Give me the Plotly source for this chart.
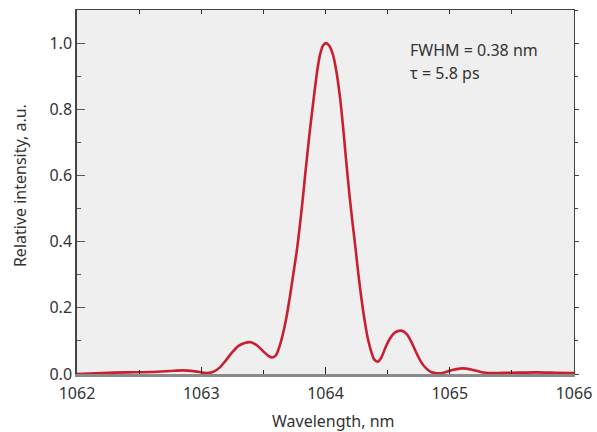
import plotly.graph_objects as go

wavelength_nm = [1062.00, 1062.20, 1062.40, 1062.60, 1062.75, 1062.85, 1062.95, 1063.05,
                 1063.10, 1063.15, 1063.20, 1063.25, 1063.30, 1063.35, 1063.40, 1063.45,
                 1063.50, 1063.54, 1063.57, 1063.60, 1063.625, 1063.65, 1063.68, 1063.714,
                 1063.74, 1063.77, 1063.813, 1063.84, 1063.87, 1063.902, 1063.934, 1063.956,
                 1063.98, 1064.004, 1064.03, 1064.06, 1064.085, 1064.117, 1064.143, 1064.165,
                 1064.19, 1064.215, 1064.24, 1064.265, 1064.29, 1064.32, 1064.345, 1064.37,
                 1064.39, 1064.42, 1064.45, 1064.48, 1064.52, 1064.56, 1064.61, 1064.65,
                 1064.69, 1064.73, 1064.77, 1064.81, 1064.85, 1064.90, 1064.95, 1065.02,
                 1065.10, 1065.18, 1065.25, 1065.32, 1065.50, 1065.70, 1065.85, 1066.00]
intensity = [0.000, 0.003, 0.005, 0.006, 0.009, 0.011, 0.008, 0.003,
             0.007, 0.020, 0.042, 0.066, 0.085, 0.094, 0.096, 0.086,
             0.068, 0.055, 0.050, 0.056, 0.078, 0.110, 0.160, 0.235,
             0.300, 0.375, 0.515, 0.615, 0.722, 0.823, 0.918, 0.965,
             0.993, 1.000, 0.992, 0.965, 0.920, 0.835, 0.740, 0.650,
             0.552, 0.465, 0.385, 0.300, 0.226, 0.150, 0.100, 0.065,
             0.045, 0.037, 0.050, 0.078, 0.108, 0.126, 0.131, 0.122,
             0.098, 0.065, 0.036, 0.017, 0.006, 0.002, 0.004, 0.012,
             0.017, 0.013, 0.006, 0.003, 0.004, 0.005, 0.004, 0.003]

x_ticks = [1062, 1063, 1064, 1065, 1066]
y_ticks = [0.0, 0.2, 0.4, 0.6, 0.8, 1.0]
annotation_lines = ["FWHM = 0.38 nm", "τ = 5.8 ps"]
x_title = "Wavelength, nm"
y_title = "Relative intensity, a.u."

FONT = "Noto Sans"
TXT = "#333333"

fig = go.Figure()
fig.add_trace(go.Scatter(x=wavelength_nm, y=intensity, mode="lines",
                         line=dict(color="#c8202f", width=2.6, shape="spline", smoothing=0.7),
                         showlegend=False, hoverinfo="skip"))
# invisible trace to anchor the mirrored (top/right) axes
fig.add_trace(go.Scatter(x=wavelength_nm, y=intensity, mode="lines", xaxis="x2", yaxis="y2",
                         line=dict(color="rgba(0,0,0,0)", width=0), showlegend=False,
                         hoverinfo="skip"))

fig.update_layout(
    width=597, height=432,
    margin=dict(l=77, r=23, t=10, b=58),
    paper_bgcolor="white", plot_bgcolor="#efefef",
    font=dict(family=FONT, size=16, color=TXT),
    xaxis=dict(range=[1062, 1066], tickvals=x_ticks, ticktext=[str(v) for v in x_ticks],
               ticks="inside", ticklen=7, tickwidth=1.2, tickcolor="#222",
               minor=dict(ticks="inside", ticklen=4, dtick=0.5, tickcolor="#222", tickwidth=1.2),
               showline=True, linecolor="#8a8a8a", linewidth=2.5, showgrid=False, zeroline=False,
               automargin=False, tickfont=dict(size=16), ticklabelstandoff=3),
    yaxis=dict(range=[0, 1.1], tickvals=y_ticks, ticktext=[f"{v:.1f}" for v in y_ticks],
               ticks="inside", ticklen=8, tickwidth=1.2, tickcolor="#555",
               minor=dict(ticks="inside", ticklen=4, dtick=0.1, tickcolor="#555", tickwidth=1.2),
               showline=True, linecolor="#444", linewidth=1.5, showgrid=False, zeroline=False,
               automargin=False, tickfont=dict(size=16)),
    xaxis2=dict(overlaying="x", side="top", anchor="y2", range=[1062, 1066],
                tickvals=x_ticks, showticklabels=False, ticks="inside", ticklen=4,
                tickcolor="#333", minor=dict(ticks="inside", ticklen=4, dtick=0.5, tickcolor="#333"),
                showline=True, linecolor="#444", linewidth=1.2, showgrid=False, zeroline=False,
                automargin=False),
    yaxis2=dict(overlaying="y", side="right", anchor="x2", range=[0, 1.1],
                tickvals=y_ticks, showticklabels=False, ticks="outside", ticklen=4,
                tickcolor="#444", minor=dict(ticks="outside", ticklen=3, dtick=0.1, tickcolor="#444"),
                showline=True, linecolor="#444", linewidth=1.2, showgrid=False, zeroline=False,
                automargin=False),
)

for txt, yv in zip(annotation_lines, [0.979, 0.909]):
    fig.add_annotation(x=1064.664, y=yv, xref="x", yref="y", text=txt, showarrow=False,
                       xanchor="left", yanchor="middle", font=dict(size=16, color=TXT, family=FONT))

fig.add_annotation(x=0.517, y=-0.129, xref="paper", yref="paper", text=x_title, showarrow=False,
                   xanchor="center", yanchor="middle", font=dict(size=16, color=TXT, family=FONT))
fig.add_annotation(x=-0.1147, y=0.519, xref="paper", yref="paper", text=y_title, showarrow=False,
                   textangle=-90, xanchor="center", yanchor="middle",
                   font=dict(size=16, color=TXT, family=FONT))

fig.write_html("out.html", config={"displayModeBar": False},
               post_script="document.body.style.margin='0px';document.body.style.overflow='hidden';")
